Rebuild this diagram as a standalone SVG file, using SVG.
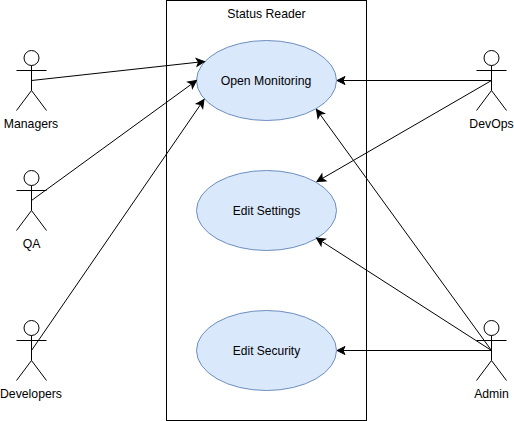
<svg xmlns="http://www.w3.org/2000/svg" width="514" height="421" viewBox="0 0 514 421">
<style>
text{font-family:"Liberation Sans",Arial,sans-serif;font-size:12.25px;fill:#000;text-anchor:middle}
text.edit{font-size:12px}
.uc{fill:#dae8fc;stroke:#6c8ebf;stroke-width:1}
.fig{fill:none;stroke:#000;stroke-width:1}
.link{fill:none;stroke:#000;stroke-width:1;marker-end:url(#arrow)}
</style>
<defs>
<marker id="arrow" markerUnits="userSpaceOnUse" markerWidth="12" markerHeight="12" refX="9" refY="5" orient="auto" overflow="visible">
<path d="M1 1 L9 5 L1 9 L3 5 Z" fill="#000" stroke="#000" stroke-width="1"/>
</marker>
<g id="stick" class="fig">
<ellipse cx="15" cy="7.5" rx="7.5" ry="7.5"/>
<path d="M15 15V40M0 20H30M15 40L0 60M15 40L30 60"/>
</g>
</defs>
<rect width="514" height="421" fill="#fff"/>
<g id="system">
<rect x="166.5" y="0.5" width="200" height="420" fill="#fff" stroke="#000"/>
<text x="266.5" y="18">Status Reader</text>
</g>
<g id="uc-open"><ellipse class="uc" cx="266.5" cy="80.5" rx="70" ry="40"/><text x="266" y="85">Open Monitoring</text></g>
<g id="uc-settings"><ellipse class="uc" cx="266.5" cy="210.5" rx="70" ry="40"/><text class="edit" x="266.5" y="215">Edit Settings</text></g>
<g id="uc-security"><ellipse class="uc" cx="266.5" cy="350.5" rx="70" ry="40"/><text class="edit" x="266.5" y="355">Edit Security</text></g>
<g id="actor-managers"><use href="#stick" x="16.5" y="50.5"/><text x="31" y="128">Managers</text></g>
<g id="actor-qa"><use href="#stick" x="16.5" y="170.5"/><text x="31.5" y="248">QA</text></g>
<g id="actor-developers"><use href="#stick" x="16.5" y="320.5"/><text x="31" y="398">Developers</text></g>
<g id="actor-devops"><use href="#stick" x="476.5" y="50.5"/><text x="491.5" y="128">DevOps</text></g>
<g id="actor-admin"><use href="#stick" x="476.5" y="320.5"/><text x="491.5" y="398">Admin</text></g>
<g id="connectors">
<path class="link" d="M31.5 80.5L204.5 61.5"/>
<path class="link" d="M31.5 200.5L196.5 80.5"/>
<path class="link" d="M31.5 350.5L204 99.5"/>
<path class="link" d="M491.5 80.5H337"/>
<path class="link" d="M491.5 80.5L317 181.5"/>
<path class="link" d="M491.5 350.5L316.5 109.5"/>
<path class="link" d="M491.5 350.5L316.5 238"/>
<path class="link" d="M491.5 350.5H337"/>
</g>
</svg>
